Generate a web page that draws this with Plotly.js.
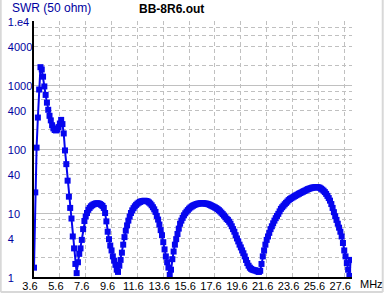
<!DOCTYPE html>
<html>
<head>
<meta charset="utf-8">
<script src="https://cdn.plot.ly/plotly-3.0.1.min.js"></script>
<style>html,body{margin:0;padding:0;background:#fff;}#chart{width:386px;height:295px;}</style>
</head>
<body>
<div id="chart"></div>
<script>
const freqMHz = [
  3.6,3.7,3.8,3.9,4.0,4.1,4.2,4.3,4.4,4.5,
  4.6,4.7,4.8,4.9,5.0,5.1,5.2,5.3,5.4,5.5,
  5.6,5.7,5.8,5.9,6.0,6.1,6.2,6.3,6.4,6.5,
  6.6,6.7,6.8,6.9,7.0,7.1,7.2,7.3,7.4,7.5,
  7.6,7.7,7.8,7.9,8.0,8.1,8.2,8.3,8.4,8.5,
  8.6,8.7,8.8,8.9,9.0,9.1,9.2,9.3,9.4,9.5,
  9.6,9.7,9.8,9.9,10.0,10.1,10.2,10.3,10.4,10.5,
  10.6,10.7,10.8,10.9,11.0,11.1,11.2,11.3,11.4,11.5,
  11.6,11.7,11.8,11.9,12.0,12.1,12.2,12.3,12.4,12.5,
  12.6,12.7,12.8,12.9,13.0,13.1,13.2,13.3,13.4,13.5,
  13.6,13.7,13.8,13.9,14.0,14.1,14.2,14.3,14.4,14.5,
  14.6,14.7,14.8,14.9,15.0,15.1,15.2,15.3,15.4,15.5,
  15.6,15.7,15.8,15.9,16.0,16.1,16.2,16.3,16.4,16.5,
  16.6,16.7,16.8,16.9,17.0,17.1,17.2,17.3,17.4,17.5,
  17.6,17.7,17.8,17.9,18.0,18.1,18.2,18.3,18.4,18.5,
  18.6,18.7,18.8,18.9,19.0,19.1,19.2,19.3,19.4,19.5,
  19.6,19.7,19.8,19.9,20.0,20.1,20.2,20.3,20.4,20.5,
  20.6,20.7,20.8,20.9,21.0,21.1,21.2,21.3,21.4,21.5,
  21.6,21.7,21.8,21.9,22.0,22.1,22.2,22.3,22.4,22.5,
  22.6,22.7,22.8,22.9,23.0,23.1,23.2,23.3,23.4,23.5,
  23.6,23.7,23.8,23.9,24.0,24.1,24.2,24.3,24.4,24.5,
  24.6,24.7,24.8,24.9,25.0,25.1,25.2,25.3,25.4,25.5,
  25.6,25.7,25.8,25.9,26.0,26.1,26.2,26.3,26.4,26.5,
  26.6,26.7,26.8,26.9,27.0,27.1,27.2,27.3,27.4,27.5,
  27.6,27.7,27.8,27.9,28.0,28.1
];
const swr = [
  1.4,21,105,310,850,1900,1750,1350,950,700,
  530,410,330,280,235,210,198,195,200,220,
  250,285,245,175,95,58,32,18,12,8.2,
  4.3,2.8,1.6,1.15,1.7,2.3,2.8,3.8,5.6,7.5,
  8.8,10,11.2,12,12.7,13.2,13.6,13.9,14.1,14.2,
  14.1,13.8,13.4,12.9,12.0,10.0,7.4,5.1,3.9,3.1,
  2.6,2.1,1.8,1.55,1.3,1.2,1.5,1.85,2.4,3.2,
  4.2,5.3,6.4,7.6,8.8,10,11,11.9,12.7,13.4,
  14,14.5,14.9,15.2,15.4,15.5,15.5,15.4,15.1,14.6,
  14,13.2,12.3,11.4,10.4,9.0,7.9,6.6,5.4,4.5,
  3.5,2.7,2.1,1.7,1.4,1.08,1.3,1.9,2.5,3.2,
  3.9,4.7,5.7,6.8,7.6,8.4,9.2,9.9,10.5,11.1,
  11.7,12.2,12.6,13,13.3,13.6,13.8,14,14.1,14.2,
  14.2,14.2,14.1,14,13.9,13.7,13.4,13.1,12.8,12.5,
  12.2,11.9,11.5,11.1,10.6,10.1,9.6,9.1,8.6,8.1,
  7.8,7.3,6.8,6.2,5.6,5.1,4.5,4.0,3.6,3.2,
  2.9,2.6,2.35,2.1,1.85,1.65,1.5,1.4,1.34,1.3,
  1.28,1.27,1.25,1.22,1.2,1.25,1.6,2.1,2.6,3.2,
  3.8,4.3,4.9,5.6,6.2,6.9,7.6,8.3,9.0,9.7,
  10.6,11.6,12.3,13,13.7,14.4,15.1,15.9,16.5,17.0,
  17.5,18,18.5,19,19.5,20,20.5,21,21.5,22,
  22.5,23.1,23.6,24,24.4,24.8,25,25.2,25.3,25.3,
  25.2,24.8,24,23.2,22.3,21.2,19.9,18.5,17.1,15.6,
  13.8,12,10.3,8.9,7.8,6.8,5.9,5.1,4.3,3.4,
  2.6,2.1,1.65,1.3,1.04,1.85
];
const yTickVals = [1,4,10,40,100,400,1000,4000,10000];
const yTickText = ['1','4','10','40','100','400','1000','4000','1.e4'];
const yMinorGridVals = [2,4,6,8,20,40,60,80,200,400,600,800,2000,4000,6000,8000];
const yDecadeGridVals = [1,10,100,1000,10000];
const chartTitle = 'BB-8R6.out';
const yTitle = 'SWR (50 ohm)';
const xUnit = 'MHz';

const FONT = 'Liberation Sans, Arial, sans-serif';
const GRID = '#c0c0c0';
const BLUE = '#0606ee';

const traces = [{
  x: freqMHz, y: swr, type: 'scatter', mode: 'lines+markers',
  line: {color: BLUE, width: 2},
  marker: {symbol: 'square', size: 6, color: BLUE},
  xaxis: 'x', yaxis: 'y', hoverinfo: 'skip'
}, {
  x: [], y: [], type: 'scatter', mode: 'lines', xaxis: 'x', yaxis: 'y2', showlegend: false, hoverinfo: 'skip'
}];

const layout = {
  width: 386, height: 295,
  margin: {l: 34, r: 34, t: 21, b: 18, pad: 0},
  paper_bgcolor: '#ffffff', plot_bgcolor: '#ffffff',
  showlegend: false,
  font: {family: FONT, size: 11, color: '#000'},
  xaxis: {
    range: [3.6, 28.2], tickmode: 'linear', tick0: 3.6, dtick: 2, tickformat: '.1f',
    showgrid: true, gridcolor: GRID, griddash: '4px,3px', gridwidth: 1,
    showline: true, linecolor: '#000', linewidth: 2, zeroline: false,
    ticks: '', ticklabelstandoff: -2, ticklabelshift: -4,
    tickfont: {family: FONT, size: 11, color: '#000'}, fixedrange: true
  },
  yaxis: {
    type: 'log', range: [0, 4], tickmode: 'array', tickvals: yTickVals, ticktext: yTickText,
    showgrid: false, zeroline: false,
    minor: {tickmode: 'array', tickvals: yMinorGridVals, showgrid: true, gridcolor: GRID, griddash: '4px,3px', gridwidth: 1, ticks: ''},
    showline: true, linecolor: '#000', linewidth: 2, ticks: '',
    ticklabelposition: 'inside', ticklabeloverflow: 'allow',
    ticklabelstandoff: -27, ticklabelshift: 1,
    tickfont: {family: FONT, size: 11, color: '#0000a0'}, fixedrange: true
  },
  yaxis2: {
    type: 'log', range: [0, 4], overlaying: 'y', anchor: 'x', side: 'left',
    tickmode: 'array', tickvals: yDecadeGridVals, showticklabels: false,
    showgrid: true, gridcolor: GRID, gridwidth: 1, showline: false, zeroline: false, ticks: '', fixedrange: true
  },
  annotations: [
    {text: yTitle, xref: 'paper', yref: 'paper', x: -0.0748, y: 1.0527, xanchor: 'left', yanchor: 'middle',
     showarrow: false, font: {family: FONT, size: 12, color: '#0000a0'}},
    {text: '<b>' + chartTitle + '</b>', xref: 'paper', yref: 'paper', x: 0.3245, y: 1.0488, xanchor: 'left', yanchor: 'middle',
     showarrow: false, font: {family: FONT, size: 12, color: '#000'}},
    {text: xUnit, xref: 'paper', yref: 'paper', x: 1.0604, y: -0.027, xanchor: 'center', yanchor: 'middle',
     showarrow: false, font: {family: FONT, size: 11, color: '#000'}}
  ],
  shapes: [
    {type: 'line', xref: 'paper', yref: 'paper', x0: 1.0966, x1: 1.0966, y0: -0.0586, y1: 1.082, line: {color: '#d8d8d8', width: 2}},
    {type: 'line', xref: 'paper', yref: 'paper', x0: -0.1047, x1: 1.0966, y0: -0.0586, y1: -0.0586, line: {color: '#d8d8d8', width: 2}},
    {type: 'line', xref: 'paper', yref: 'paper', x0: -0.1047, x1: -0.1047, y0: -0.0586, y1: 1.082, line: {color: '#d8d8d8', width: 2}}
  ]
};

Plotly.newPlot('chart', traces, layout, {displayModeBar: false, staticPlot: true});
</script>
</body>
</html>
